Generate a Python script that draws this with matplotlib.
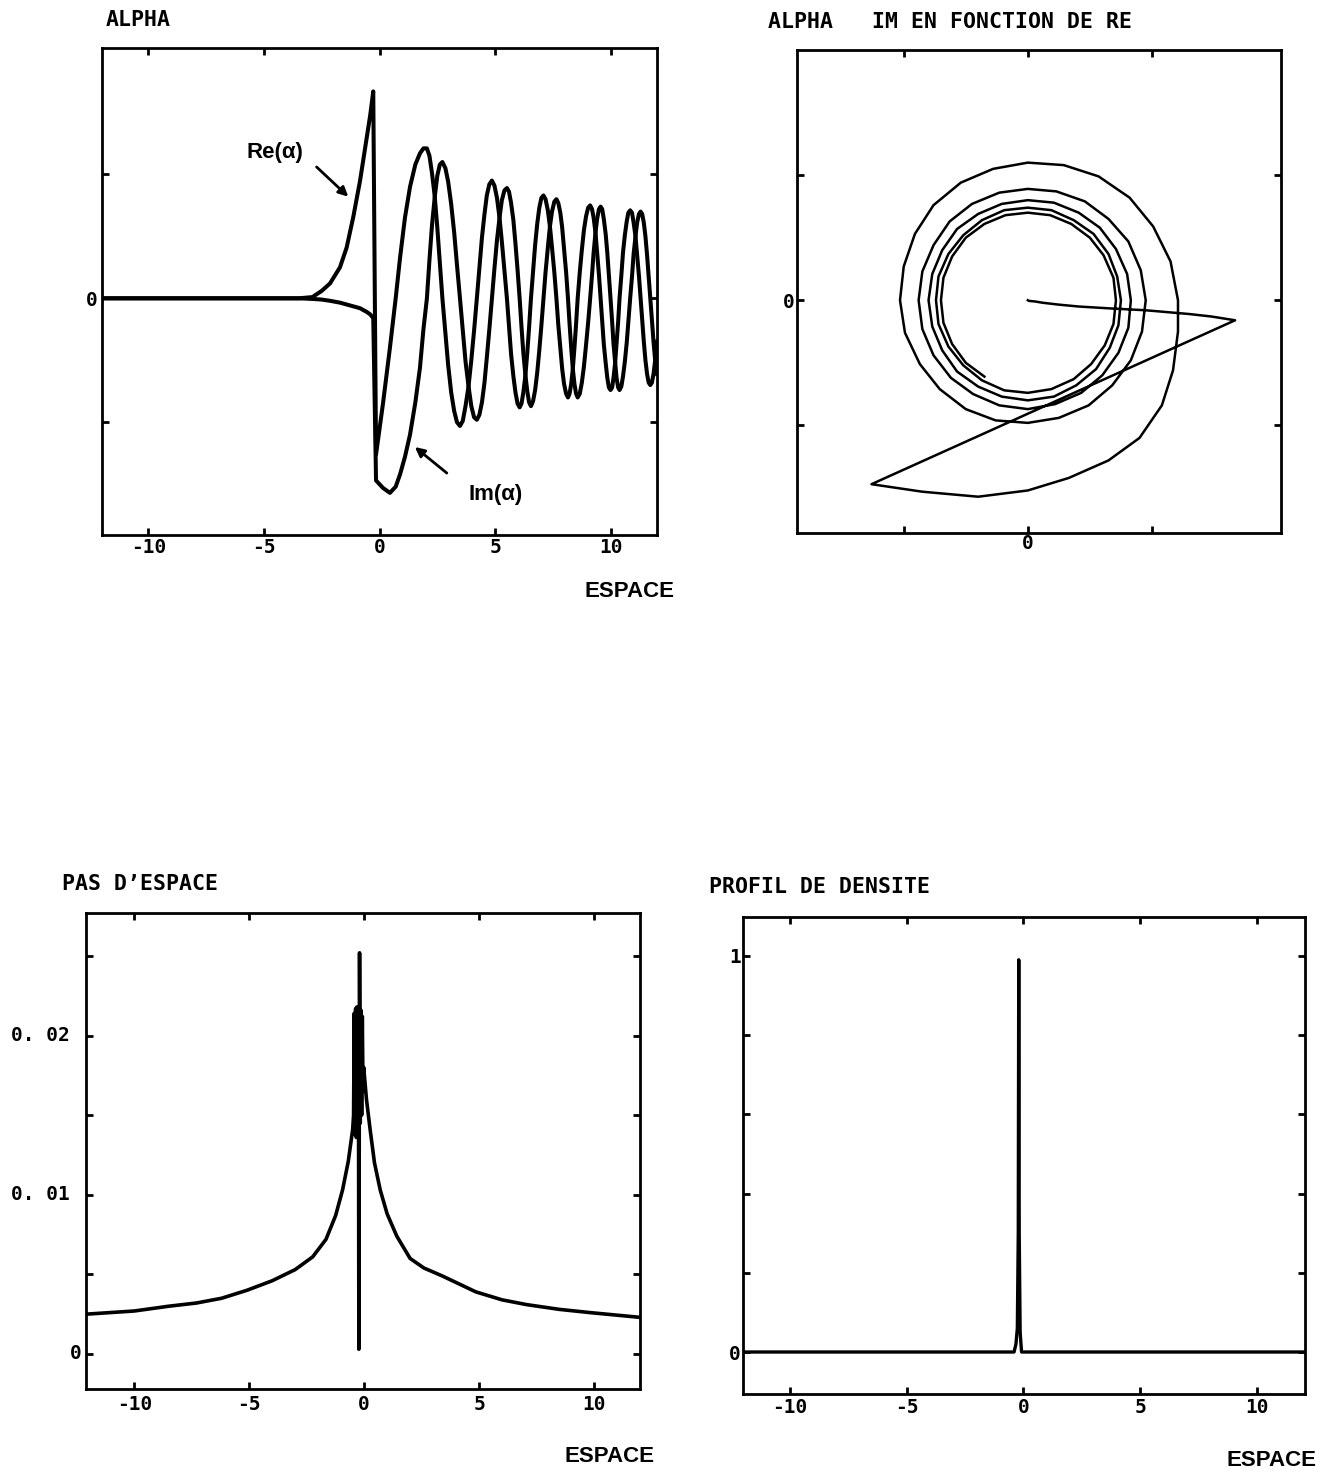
import matplotlib
matplotlib.use("Agg")
import matplotlib.pyplot as plt

plt.rcParams['font.family'] = ['DejaVu Sans Mono', 'DejaVu Sans']
plt.rcParams['font.weight'] = 'bold'

W, H = 1330, 1472

# alpha(x): real and imaginary parts, read off the top-left panel
# (one line per quarter turn of the spiral after x ~ 2)
alpha_x = [-12.0, -6.0, -3.5, -2.9, -2.5, -2.14, -1.71, -1.42, -1.13, -0.84, -0.70, -0.55, -0.40, -0.27,
           -0.15, 0.15, 0.45, 0.70, 0.89, 1.10, 1.32, 1.55, 1.75, 1.90,
           2.05, 2.16, 2.27, 2.39, 2.50, 2.61,
           2.72, 2.85, 2.97, 3.10, 3.23, 3.35,
           3.48, 3.60, 3.72, 3.85, 3.97, 4.09,
           4.21, 4.32, 4.43, 4.54, 4.64, 4.75,
           4.86, 4.97, 5.08, 5.19, 5.29, 5.40,
           5.51, 5.60, 5.69, 5.79, 5.88, 5.97,
           6.06, 6.14, 6.22, 6.31, 6.39, 6.47,
           6.55, 6.64, 6.73, 6.82, 6.91, 7.00,
           7.09, 7.18, 7.28, 7.37, 7.46, 7.56,
           7.65, 7.73, 7.82, 7.90, 7.98, 8.07,
           8.15, 8.22, 8.29, 8.36, 8.43, 8.50,
           8.57, 8.66, 8.75, 8.84, 8.93, 9.02,
           9.11, 9.19, 9.26, 9.34, 9.41, 9.49,
           9.56, 9.63, 9.70, 9.78, 9.85, 9.92,
           9.99, 10.06, 10.12, 10.19, 10.25, 10.32,
           10.38, 10.46, 10.53, 10.61, 10.69, 10.76,
           10.84, 10.92, 10.99, 11.07, 11.14, 11.22,
           11.29, 11.36, 11.43, 11.50, 11.57, 11.64,
           11.71, 11.78, 11.85, 11.92, 12.0]
alpha_re = [0.0, 0.0, 0.0, 0.01, 0.06, 0.12, 0.25, 0.41, 0.66, 0.95, 1.12, 1.30, 1.48, 1.67,
            -1.26, -0.85, -0.40, 0.00, 0.33, 0.65, 0.90, 1.08, 1.17, 1.21,
            1.21, 1.15, 1.01, 0.82, 0.57, 0.29,
            0.00, -0.28, -0.54, -0.76, -0.91, -1.00,
            -1.03, -0.99, -0.87, -0.71, -0.50, -0.26,
            0.00, 0.25, 0.49, 0.68, 0.83, 0.92,
            0.95, 0.91, 0.81, 0.65, 0.46, 0.23,
            0.00, -0.23, -0.45, -0.63, -0.76, -0.85,
            -0.88, -0.85, -0.76, -0.62, -0.44, -0.23,
            0.00, 0.22, 0.43, 0.60, 0.73, 0.81,
            0.83, 0.80, 0.71, 0.58, 0.41, 0.21,
            0.00, -0.21, -0.40, -0.57, -0.69, -0.77,
            -0.80, -0.77, -0.69, -0.57, -0.40, -0.21,
            0.00, 0.21, 0.39, 0.55, 0.66, 0.73,
            0.75, 0.72, 0.65, 0.53, 0.37, 0.19,
            0.00, -0.19, -0.37, -0.52, -0.64, -0.72,
            -0.74, -0.72, -0.64, -0.52, -0.37, -0.19,
            0.00, 0.19, 0.37, 0.51, 0.62, 0.69,
            0.71, 0.69, 0.61, 0.50, 0.35, 0.18,
            0.00, -0.18, -0.35, -0.50, -0.61, -0.68,
            -0.70, -0.68, -0.61, -0.50, -0.35]
alpha_im = [0.0, 0.0, 0.0, -0.005, -0.01, -0.02, -0.035, -0.05, -0.065, -0.08, -0.095, -0.11, -0.13, -0.16,
            -1.47, -1.53, -1.57, -1.52, -1.42, -1.28, -1.10, -0.84, -0.56, -0.25,
            0.00, 0.31, 0.59, 0.82, 0.99, 1.08,
            1.10, 1.05, 0.94, 0.76, 0.53, 0.27,
            0.00, -0.26, -0.51, -0.71, -0.87, -0.96,
            -0.98, -0.94, -0.84, -0.68, -0.48, -0.25,
            0.00, 0.24, 0.47, 0.65, 0.79, 0.87,
            0.89, 0.86, 0.77, 0.63, 0.44, 0.23,
            0.00, -0.23, -0.44, -0.62, -0.75, -0.84,
            -0.87, -0.83, -0.74, -0.60, -0.42, -0.22,
            0.00, 0.21, 0.41, 0.58, 0.70, 0.78,
            0.80, 0.77, 0.69, 0.57, 0.40, 0.21,
            0.00, -0.21, -0.40, -0.57, -0.69, -0.77,
            -0.80, -0.77, -0.68, -0.55, -0.38, -0.20,
            0.00, 0.19, 0.37, 0.53, 0.64, 0.72,
            0.74, 0.72, 0.64, 0.52, 0.37, 0.19,
            0.00, -0.19, -0.37, -0.52, -0.64, -0.72,
            -0.74, -0.71, -0.63, -0.51, -0.36, -0.19,
            0.00, 0.18, 0.36, 0.50, 0.61, 0.68,
            0.70, 0.68, 0.61, 0.50, 0.35, 0.18,
            0.00, -0.18, -0.35, -0.50, -0.61]

# space step (PAS D'ESPACE)
pas_x = [-12.1, -10.0, -8.5, -7.3, -6.2, -5.1, -4.0, -3.0, -2.24, -1.66, -1.24, -0.94, -0.69, -0.50,
         -0.46, -0.43, -0.40, -0.37, -0.34, -0.31, -0.28, -0.25, -0.23, -0.20, -0.17, -0.14,
         -0.11, -0.08, -0.05, -0.02,
         0.10, 0.26, 0.45, 0.70, 1.0, 1.42, 2.0, 2.6, 3.4, 4.86, 6.0, 7.07, 8.5, 9.82, 12.0]
pas_val = [0.0025, 0.0027, 0.0030, 0.0032, 0.0035, 0.0040, 0.0046, 0.0053, 0.0061, 0.0072, 0.0087,
           0.0103, 0.0121, 0.0141,
           0.0150, 0.0214, 0.0138, 0.0217, 0.0136, 0.0218, 0.0140, 0.0218, 0.0003, 0.0252, 0.0145,
           0.0216, 0.0150, 0.0212, 0.0165, 0.0180,
           0.0160, 0.0141, 0.0120, 0.0103, 0.0088, 0.0074, 0.0060, 0.0054, 0.0049, 0.0039, 0.0034,
           0.0031, 0.0028, 0.0026, 0.0023]

# density profile
dens_x = [-12.0, -0.40, -0.32, -0.26, -0.22, -0.20, -0.18, -0.14, -0.08, 12.0]
dens_val = [0.0, 0.0, 0.02, 0.06, 0.30, 0.99, 0.30, 0.05, 0.0, 0.0]

x_ticks = [-10, -5, 0, 5, 10]
x_ticklabels = ['-10', '-5', '0', '5', '10']

fig = plt.figure(figsize=(W / 100, H / 100), dpi=100)


def px_axes(l, t, r, b):
    ax = fig.add_axes([l / W, 1 - b / H, (r - l) / W, (b - t) / H])
    for s in ax.spines.values():
        s.set_linewidth(2)
    ax.tick_params(direction='in', length=5, width=2, top=True, right=True, labelsize=14)
    return ax


def label(x, y, s, size=15.5, ha='left', family='DejaVu Sans Mono'):
    fig.text(x / W, 1 - y / H, s, ha=ha, va='center', fontsize=size, family=family,
             fontweight='bold')


# top left: alpha vs space
ax1 = px_axes(102, 48, 657, 535)
ax1.plot(alpha_x, alpha_re, color='black', lw=2.9)
ax1.plot(alpha_x, alpha_im, color='black', lw=2.9)
ax1.set_xlim(-12, 12)
ax1.set_ylim(-1.91, 2.02)
ax1.set_xticks(x_ticks)
ax1.set_xticklabels(x_ticklabels)
ax1.set_yticks([-1, 0, 1])
ax1.set_yticklabels(['', '0', ''])
ax1.tick_params(axis='x', pad=2)
ax1.tick_params(axis='y', pad=3.5)
ax1.text(-4.52, 1.18, 'Re(α)', ha='center', va='center', fontsize=16,
         family='Liberation Sans', fontweight='bold')
ax1.text(5.0, -1.58, 'Im(α)', ha='center', va='center', fontsize=16,
         family='Liberation Sans', fontweight='bold')
arrow = dict(arrowstyle='-|>', color='black', lw=2, mutation_scale=14, shrinkA=0, shrinkB=0)
ax1.annotate('', xy=(-1.35, 0.82), xytext=(-2.72, 1.06), arrowprops=arrow)
ax1.annotate('', xy=(1.53, -1.20), xytext=(2.91, -1.41), arrowprops=arrow)
label(106, 20, 'ALPHA')
label(630, 591, 'ESPACE', size=16, ha='center', family='Liberation Sans')

# top right: Im vs Re
ax2 = px_axes(797, 50, 1281, 533)
ax2.plot(alpha_re, alpha_im, color='black', lw=1.8)
ax2.set_xlim(-1.86, 2.04)
ax2.set_ylim(-1.86, 2.0)
ax2.set_xticks([-1, 0, 1])
ax2.set_xticklabels(['', '0', ''])
ax2.set_yticks([-1, 0, 1])
ax2.set_yticklabels(['', '0', ''])
ax2.tick_params(axis='x', pad=0.5)
ax2.tick_params(axis='y', pad=1.5)
label(768, 22, 'ALPHA   IM EN FONCTION DE RE')

# bottom left: space step
ax3 = px_axes(86, 913, 640, 1389)
ax3.plot(pas_x, pas_val, color='black', lw=2.6)
ax3.set_xlim(-12.1, 12.0)
ax3.set_ylim(-0.0022, 0.0277)
ax3.set_xticks(x_ticks)
ax3.set_xticklabels(x_ticklabels)
ax3.set_yticks([0, 0.005, 0.01, 0.015, 0.02, 0.025])
ax3.set_yticklabels([])
ax3.tick_params(axis='x', pad=4)
ytr = ax3.get_yaxis_transform()
for v, s in [(0.02, '0. 02'), (0.01, '0. 01')]:
    ax3.text(-0.1354, v, s, transform=ytr, ha='left', va='center', fontsize=14, fontweight='bold')
ax3.text(-0.007, 0.0, '0', transform=ytr, ha='right', va='center', fontsize=14, fontweight='bold')
label(62, 884, 'PAS D’ESPACE')
label(610, 1457, 'ESPACE', size=16, ha='center', family='Liberation Sans')

# bottom right: density profile
ax4 = px_axes(743, 917, 1305, 1394)
ax4.plot(dens_x, dens_val, color='black', lw=2.4)
ax4.set_xlim(-12.0, 12.05)
ax4.set_ylim(-0.106, 1.098)
ax4.set_xticks(x_ticks)
ax4.set_xticklabels(x_ticklabels)
ax4.set_yticks([0, 0.2, 0.4, 0.6, 0.8, 1.0])
ax4.set_yticklabels(['0', '', '', '', '', '1'])
ax4.tick_params(axis='x', pad=3)
ax4.tick_params(axis='y', pad=1.5)
label(709, 887, 'PROFIL DE DENSITE')
label(1272, 1460, 'ESPACE', size=16, ha='center', family='Liberation Sans')

fig.savefig('out.png', dpi=100)
